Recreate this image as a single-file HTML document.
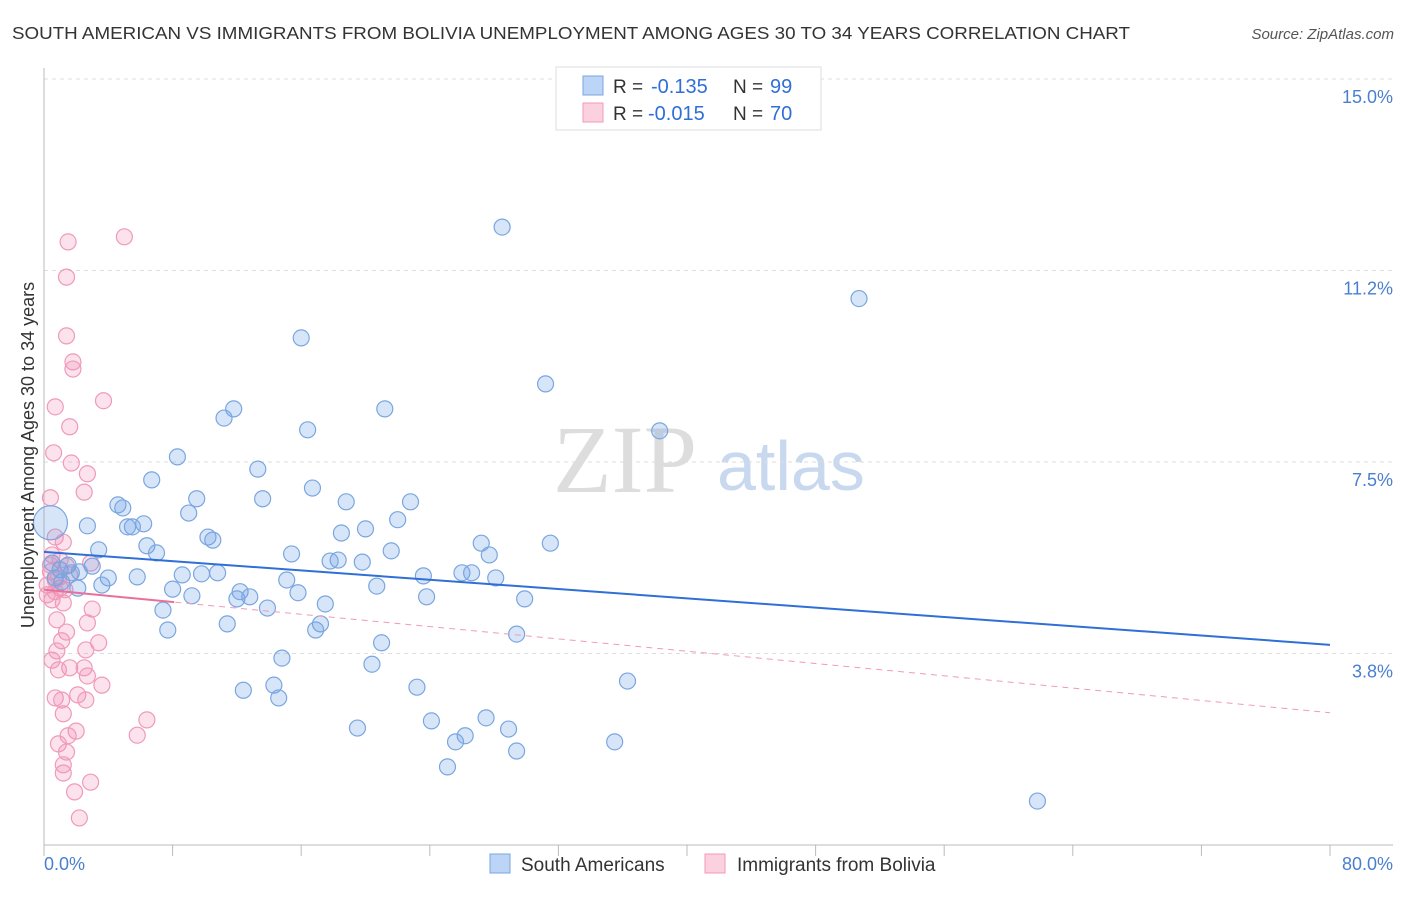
<!DOCTYPE html>
<html><head><meta charset="utf-8"><style>
body{margin:0;background:#fff;font-family:"Liberation Sans",sans-serif}
</style></head><body>
<svg id="chart" width="1406" height="892" xmlns="http://www.w3.org/2000/svg" font-family="Liberation Sans, sans-serif">
<text x="12" y="39" font-size="17.5" fill="#333" textLength="1118" lengthAdjust="spacingAndGlyphs">SOUTH AMERICAN VS IMMIGRANTS FROM BOLIVIA UNEMPLOYMENT AMONG AGES 30 TO 34 YEARS CORRELATION CHART</text>
<text x="1394" y="39" font-size="15" fill="#555" text-anchor="end" font-style="italic">Source: ZipAtlas.com</text>
<g>
<text x="553" y="492" font-size="96" font-family="Liberation Serif, serif" fill="#ddd">ZIP</text>
<text x="717" y="490" font-size="70" fill="#c8d8ee">atlas</text>
</g>
<g id="grid"></g>
<g id="axes"></g>
<g id="marks"></g>
<text transform="translate(34,455) rotate(-90)" font-size="18" fill="#333" text-anchor="middle">Unemployment Among Ages 30 to 34 years</text>
<text x="44" y="870" font-size="18" fill="#4a7fd0">0.0%</text>
<text x="1393" y="870" font-size="18" fill="#4a7fd0" text-anchor="end">80.0%</text>
<g>
<rect x="556" y="67" width="265" height="63" fill="#fff" stroke="#ddd"/>
<rect x="583" y="76" width="20" height="19" fill="#bcd4f5" stroke="#7aa6e0"/>
<rect x="583" y="103" width="20" height="19" fill="#fbd0df" stroke="#f09ab8"/>
<text x="613" y="93" font-size="19" fill="#333">R =</text>
<text x="651" y="93" font-size="20" fill="#2f6fd6">-0.135</text>
<text x="733" y="93" font-size="19" fill="#333">N =</text>
<text x="770" y="93" font-size="20" fill="#2f6fd6">99</text>
<text x="613" y="120" font-size="19" fill="#333">R =</text>
<text x="648" y="120" font-size="20" fill="#2f6fd6">-0.015</text>
<text x="733" y="120" font-size="19" fill="#333">N =</text>
<text x="770" y="120" font-size="20" fill="#2f6fd6">70</text>
</g>
<g>
<rect x="490" y="854" width="20" height="19" fill="#bcd4f5" stroke="#7aa6e0"/>
<text x="521" y="871" font-size="19" fill="#333">South Americans</text>
<rect x="705" y="854" width="20" height="19" fill="#fbd0df" stroke="#f09ab8"/>
<text x="737" y="871" font-size="19" fill="#333">Immigrants from Bolivia</text>
</g>
</svg>
<script>
const yTicks=[15,11.25,7.5,3.75];
const yTickLabels=["15.0%","11.2%","7.5%","3.8%"];
const xTicks=[0,8,16,24,32,40,48,56,64,72,80];
const blueX=[28.5,50.7,16.0,31.2,11.8,21.2,11.2,16.4,38.3,8.3,13.3,6.7,16.7,9.5,13.6,4.6,4.9,9.0,18.8,22.8,6.2,5.5,5.2,2.7,22.0,20.0,18.5,10.2,10.5,27.2,31.5,6.4,7.0,3.4,15.4,21.6,27.7,18.3,17.8,19.8,3.0,1.5,1.0,1.7,4.0,5.8,8.6,9.8,10.8,15.1,23.6,26.0,26.6,28.1,3.6,2.1,8.0,20.7,9.2,12.2,12.0,12.8,15.8,23.8,29.9,7.4,13.9,17.5,11.4,17.2,16.9,7.7,29.4,21.0,14.8,20.4,36.3,23.2,14.3,12.4,14.6,27.5,24.1,19.5,28.9,26.2,25.6,35.5,29.4,25.1,61.8,0.7,1.1,2.2,0.5];
const blueY=[12.1,10.7,9.93,9.03,8.54,8.54,8.36,8.13,8.11,7.6,7.36,7.15,6.99,6.78,6.78,6.66,6.6,6.5,6.72,6.72,6.29,6.23,6.23,6.25,6.37,6.19,6.11,6.03,5.97,5.91,5.91,5.86,5.72,5.78,5.7,5.76,5.68,5.58,5.56,5.54,5.46,5.48,5.39,5.33,5.23,5.25,5.29,5.31,5.33,5.19,5.27,5.33,5.33,5.23,5.09,5.03,5.01,5.07,4.88,4.96,4.82,4.86,4.94,4.86,4.82,4.6,4.64,4.72,4.33,4.33,4.21,4.21,4.13,3.96,3.66,3.54,3.21,3.09,3.13,3.03,2.88,2.49,2.43,2.29,2.27,2.14,2.02,2.02,1.84,1.53,0.86,5.23,5.15,5.35,5.52];
const pinkX=[1.5,5.0,1.4,1.4,1.8,1.8,3.7,0.7,1.6,0.6,1.7,2.7,2.5,0.4,0.7,1.2,0.5,1.0,2.9,0.4,1.4,0.7,0.2,1.0,0.5,1.2,3.0,0.8,2.7,1.4,1.1,3.4,0.8,2.6,0.5,1.6,2.5,0.9,2.7,3.6,2.1,0.7,1.1,2.6,1.2,6.4,2.0,5.8,1.5,0.9,1.4,1.2,1.2,2.9,1.9,2.2,0.2,0.7,1.3,1.6,0.9,0.4];
const pinkY=[11.81,11.91,11.12,9.97,9.46,9.32,8.7,8.58,8.19,7.68,7.48,7.27,6.91,6.8,6.03,5.93,5.68,5.58,5.52,5.35,5.46,5.19,5.09,5.03,4.8,4.74,4.62,4.41,4.35,4.17,4.0,3.96,3.8,3.82,3.62,3.47,3.47,3.43,3.31,3.13,2.94,2.88,2.84,2.84,2.57,2.45,2.23,2.15,2.14,1.98,1.82,1.57,1.41,1.23,1.04,0.53,4.9,4.96,5.0,5.29,5.23,5.48];
const bigBlue=[0.4,6.31];
const blueTrend=[5.74,3.92];
const pinkTrend=[5.0,2.59];
const pinkSolidEnd=8.1;
const NS="http://www.w3.org/2000/svg";
const X0=44,X1=1330,Y0=845,Ytop=79;
const sx=v=>X0+(X1-X0)*v/80;
const sy=v=>Y0-(Y0-Ytop)*v/15;
function mk(t,a,p){const e=document.createElementNS(NS,t);for(const k in a)e.setAttribute(k,a[k]);p.appendChild(e);return e;}
const grid=document.getElementById('grid'),axes=document.getElementById('axes'),marks=document.getElementById('marks');
yTicks.forEach((t,i)=>{
 const l=mk('line',{x1:X0,x2:1393,y1:sy(t),y2:sy(t),stroke:'#ddd','stroke-dasharray':'4,4'},grid);
 
 
 const tx=mk('text',{x:1393,y:sy(t)+24,'font-size':18,fill:'#4a7fd0','text-anchor':'end'},grid);
 tx.textContent=yTickLabels[i];
 
 
});
const ya=mk('line',{x1:X0,x2:X0,y1:68,y2:Y0,stroke:'#bbb'},axes);


const xa=mk('line',{x1:X0,x2:1393,y1:Y0,y2:Y0,stroke:'#bbb'},axes);


xTicks.forEach(t=>{
 const l=mk('line',{x1:sx(t),x2:sx(t),y1:Y0,y2:Y0+11,stroke:'#bbb'},axes);
 
 
});
pinkX.forEach((x,i)=>{
 const c=mk('circle',{cx:sx(x),cy:sy(pinkY[i]),r:8,fill:'rgba(240,140,180,0.25)',stroke:'#f09ab8','stroke-width':1.2},marks);
 
 
});
blueX.forEach((x,i)=>{
 const c=mk('circle',{cx:sx(x),cy:sy(blueY[i]),r:8,fill:'rgba(110,160,230,0.28)',stroke:'#7aa6e0','stroke-width':1.2},marks);
 
 
});
const bb=mk('circle',{cx:sx(bigBlue[0]),cy:sy(bigBlue[1]),r:17,fill:'rgba(110,160,230,0.28)',stroke:'#7aa6e0','stroke-width':1.2},marks);


const pt=v=>pinkTrend[0]+(pinkTrend[1]-pinkTrend[0])*v/80;
const pd=mk('line',{x1:sx(0),y1:sy(pinkTrend[0]),x2:sx(80),y2:sy(pinkTrend[1]),stroke:'#f09ab8','stroke-width':1,'stroke-dasharray':'6,5'},marks);


const ps=mk('line',{x1:sx(0),y1:sy(pinkTrend[0]),x2:sx(pinkSolidEnd),y2:sy(pt(pinkSolidEnd)),stroke:'#e8709a','stroke-width':2},marks);


const bt=mk('line',{x1:sx(0),y1:sy(blueTrend[0]),x2:sx(80),y2:sy(blueTrend[1]),stroke:'#2f6fd6','stroke-width':2},marks);


</script>
</body></html>
